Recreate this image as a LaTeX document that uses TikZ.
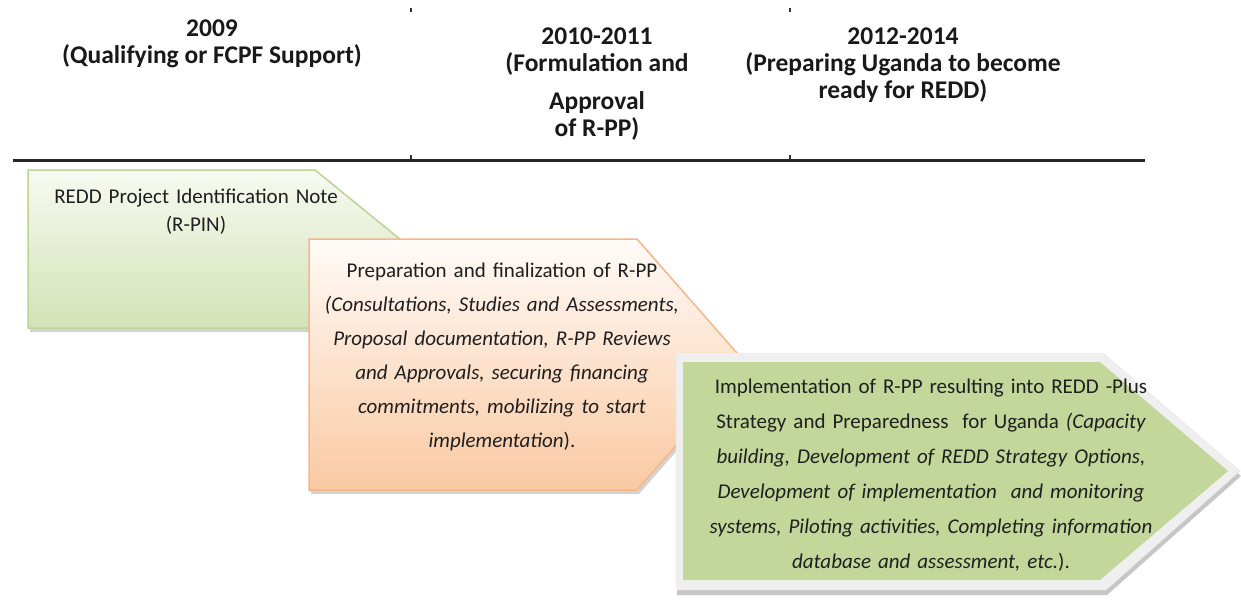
\documentclass[tikz,border=0pt]{standalone}
\usepackage{fontspec}
\setmainfont{Carlito}
\usetikzlibrary{shadows}
\definecolor{rpinline}{HTML}{BCD397}
\definecolor{rpintop}{HTML}{F7FAF1}
\definecolor{rpinbot}{HTML}{D3E2B6}
\definecolor{rppline}{HTML}{F7B58A}
\definecolor{rpptop}{HTML}{FFFBF8}
\definecolor{rppbot}{HTML}{FAC9A2}
\definecolor{implfill}{HTML}{C4D79B}
\definecolor{implrim}{HTML}{EFEFEF}
\tikzset{
  stage/.style={line width=1.5pt,
    drop shadow={shadow xshift=2pt,shadow yshift=-4pt,opacity=.35}},
  colrule/.style={line width=1.2pt,black!80}}

\begin{document}
\begin{tikzpicture}[x=1pt,y=-1pt,
  headtext/.style={align=center,text=black!90,
    font=\fontsize{25.5}{27}\selectfont\bfseries},
  stagetext/.style={align=center,text=black!88,inner sep=0pt,
    font=\fontsize{21}{34}\selectfont}]
  \useasboundingbox (0,0) rectangle (1241,613);

  % timeline header
  \node[headtext] (yfcpf) at (212,43.5)
    {2009\\(Qualifying or FCPF Support)};
  \node[headtext] (yrpp) at (597,84)
    {2010-2011\\(Formulation and\\[11pt]Approval\\of R-PP)};
  \node[headtext] (yredd) at (903,65.5)
    {2012-2014\\(Preparing Uganda to become\\ready for REDD)};
  \draw[line width=3pt,black!85] (13,160.5) -- (1145,160.5);
  \draw[colrule] (411,8) -- (411,12);
  \draw[colrule] (411,155) -- (411,159);
  \draw[colrule] (790,8) -- (790,12);
  \draw[colrule] (790,155) -- (790,159);

  % stage 1: R-PIN
  \path[stage,draw=rpinline,top color=rpintop,bottom color=rpinbot]
    (28,170) -- (315,170) -- (412,249) -- (315,328) -- (28,328) -- cycle;
  \node[stagetext,text width=320pt,font=\fontsize{21}{28}\selectfont]
    (rpin) at (196,212)
    {REDD Project Identification Note\\(R-PIN)};

  % stage 2: R-PP
  \path[stage,draw=rppline,top color=rpptop,bottom color=rppbot]
    (309,239) -- (637,239) -- (747,364.5) -- (637,490) -- (309,490) -- cycle;
  \node[stagetext,text width=400pt] (rpp) at (502,357)
    {Preparation and finalization of R-PP\\
     \itshape(Consultations, Studies and Assessments,\\
     Proposal documentation, R-PP Reviews\\
     and Approvals, securing financing\\
     commitments, mobilizing to start\\
     implementation\upshape).};

  % stage 3: implementation
  \path[drop shadow={shadow xshift=1pt,shadow yshift=-5pt,opacity=.45},
    fill=implrim,draw=black!10]
    (676,353) -- (1103,353) -- (1240,471) -- (1106,590) -- (676,590) -- cycle;
  \fill[implfill]
    (683,362) -- (1100,362) -- (1228,471) -- (1100,580) -- (683,580) -- cycle;
  \node[stagetext,text width=500pt,font=\fontsize{21}{35}\selectfont]
    (impl) at (931,475)
    {Implementation of R-PP resulting into REDD -Plus\\
     Strategy and Preparedness\ \ for Uganda \itshape(Capacity\\
     building, Development of REDD Strategy Options,\\
     Development of implementation\ \ and monitoring\\
     systems, Piloting activities, Completing information\\
     database and assessment, etc.\upshape).};
\end{tikzpicture}
\end{document}
